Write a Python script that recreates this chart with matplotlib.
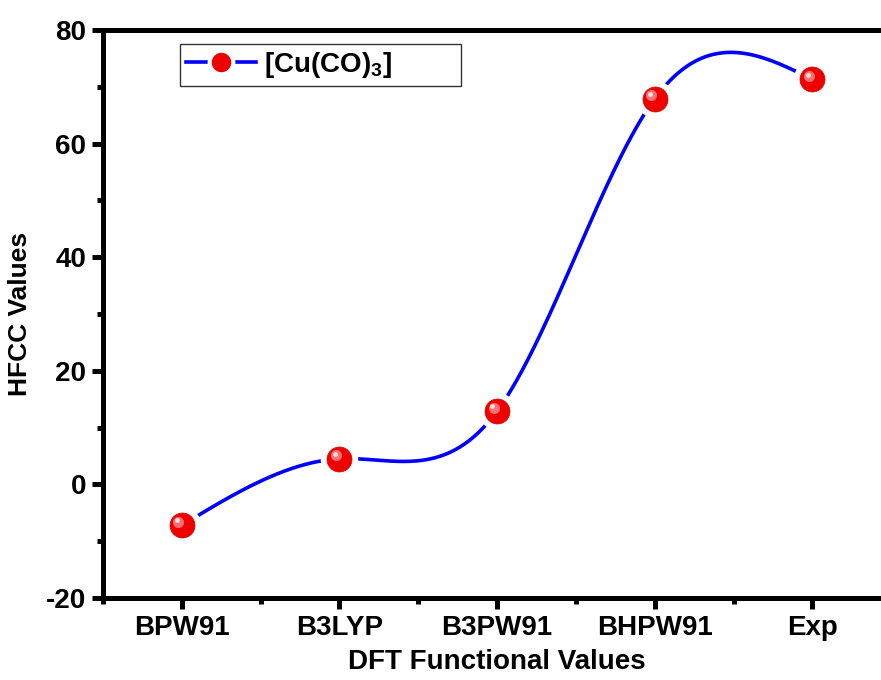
import numpy as np
import matplotlib
matplotlib.use("Agg")
import matplotlib.pyplot as plt
from matplotlib.lines import Line2D
from matplotlib.transforms import offset_copy

plt.rcParams['font.family'] = ['Liberation Sans', 'DejaVu Sans']
plt.rcParams['font.weight'] = 'bold'
plt.rcParams['mathtext.fontset'] = 'custom'
plt.rcParams['mathtext.bf'] = 'Liberation Sans:bold'
plt.rcParams['mathtext.rm'] = 'Liberation Sans:bold'
plt.rcParams['axes.unicode_minus'] = False

# data
functionals = ["BPW91", "B3LYP", "B3PW91", "BHPW91", "Exp"]
hfcc = [-7.2, 4.5, 12.9, 67.9, 71.3]
series_name = r"[Cu(CO)$_\mathbf{3}$]"


def natural_spline(x, y, xs):
    ##Smooth curve through the points, like Origin's spline connect.
    x = np.asarray(x, float)
    y = np.asarray(y, float)
    n = len(x)
    h = np.diff(x)
    A = np.zeros((n, n))
    b = np.zeros(n)
    A[0, 0] = 1
    A[-1, -1] = 1
    for i in range(1, n - 1):
        A[i, i - 1] = h[i - 1]
        A[i, i] = 2 * (h[i - 1] + h[i])
        A[i, i + 1] = h[i]
        b[i] = 6 * ((y[i + 1] - y[i]) / h[i] - (y[i] - y[i - 1]) / h[i - 1])
    M = np.linalg.solve(A, b)
    out = np.empty_like(xs)
    for k, xv in enumerate(xs):
        i = min(max(np.searchsorted(x, xv) - 1, 0), n - 2)
        t1 = x[i + 1] - xv
        t0 = xv - x[i]
        out[k] = (M[i] * t1**3 + M[i + 1] * t0**3) / (6 * h[i]) \
            + (y[i] / h[i] - M[i] * h[i] / 6) * t1 \
            + (y[i + 1] / h[i] - M[i + 1] * h[i] / 6) * t0
    return out


xpos = np.arange(1, len(functionals) + 1)
xs = np.linspace(xpos[0], xpos[-1], 400)
ys = natural_spline(xpos, hfcc, xs)

fig = plt.figure(figsize=(8.81, 6.8), dpi=100)
ax = fig.add_axes([0.1169, 0.1206, 0.8947, 0.8353])

ax.plot(xs, ys, color='#0000ff', lw=2.6, zorder=2, solid_capstyle='round')
# white halo gives the gap between line and symbol
ax.plot(xpos, hfcc, 'o', ms=26, color='white', zorder=3)
ax.plot(xpos, hfcc, 'o', ms=18, color='#ee0000', mec='#dd0000', mew=0.5, zorder=4)
hl1 = offset_copy(ax.transData, fig=fig, x=-2.5, y=2.5, units='points')
hl2 = offset_copy(ax.transData, fig=fig, x=-3.5, y=3.5, units='points')
ax.plot(xpos, hfcc, 'o', ms=8, color='#ff6f6f', mew=0, zorder=5, transform=hl1)
ax.plot(xpos, hfcc, 'o', ms=3.5, color='#ffe0e0', mew=0, zorder=6, transform=hl2)

ax.set_xlim(0.5, 5.5)
ax.set_ylim(-20, 80)
ax.set_xticks(xpos)
ax.set_xticklabels(functionals, fontsize=20, fontweight='bold')
ax.set_xticks(np.arange(0.5, 5.6, 1.0), minor=True)
ax.set_yticks([-20, 0, 20, 40, 60, 80])
ax.set_yticks(np.arange(-20, 81, 10), minor=True)
for lab in ax.get_yticklabels():
    lab.set_fontsize(20)
    lab.set_fontweight('bold')

for s in ax.spines.values():
    s.set_linewidth(3.6)
ax.tick_params(which='major', direction='out', length=8, width=3.6, pad=4)
ax.tick_params(which='minor', direction='out', length=4.5, width=3.6)

ax.set_xlabel("DFT Functional Values", fontsize=20, fontweight='bold', labelpad=6)
ax.set_ylabel("HFCC Values", fontsize=19, fontweight='bold', labelpad=10)

handle = Line2D([0], [0], color='#0000ff', lw=2.6, marker='o', ms=17,
                mfc='#ee0000', mec='white', mew=3)
leg = ax.legend([handle], [series_name + "         "], loc='upper left',
                bbox_to_anchor=(180 / 881, 1 - 44 / 680), bbox_transform=fig.transFigure,
                fancybox=False, framealpha=1, edgecolor='#333333', fontsize=20,
                handlelength=2.5, borderpad=0.22, handletextpad=0.3, borderaxespad=0)
leg.get_frame().set_linewidth(1.0)
leg.get_texts()[0].set_fontweight('bold')

fig.savefig("out.png", dpi=100)
